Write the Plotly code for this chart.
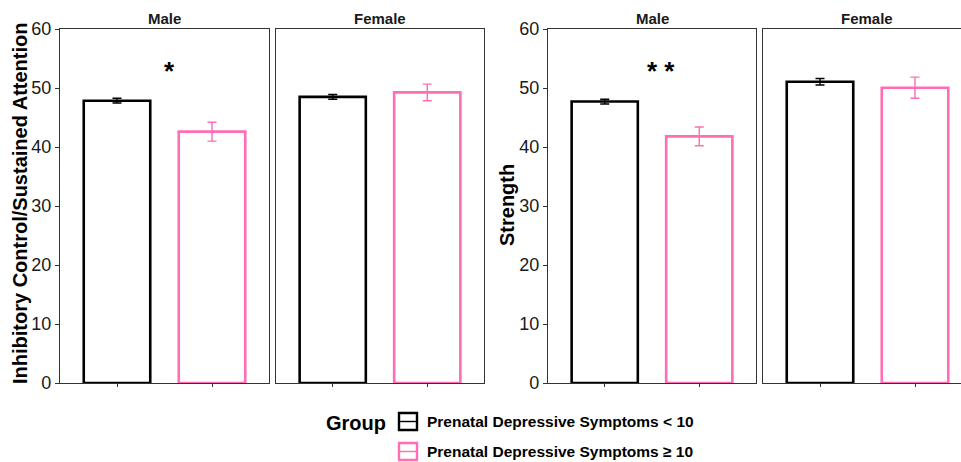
import plotly.graph_objects as go

W, H = 961, 462

# ---------------- data ----------------
panels = ["Male", "Female"]
groups = ["Prenatal Depressive Symptoms < 10", "Prenatal Depressive Symptoms ≥ 10"]
group_x = [1, 2]

ic_male_mean = [47.85, 42.6]
ic_male_se = [0.4, 1.6]
ic_female_mean = [48.5, 49.25]
ic_female_se = [0.4, 1.4]

str_male_mean = [47.7, 41.8]
str_male_se = [0.4, 1.6]
str_female_mean = [51.05, 50.05]
str_female_se = [0.55, 1.8]

y_ticks = [0, 10, 20, 30, 40, 50, 60]
y_titles = ["Inhibitory Control/Sustained Attention", "Strength"]
sig_labels = ["*", "* *"]
sig_x = [1.55, 1.6]
sig_y = [52.8, 52.8]

# ---------------- style ----------------
FONT = "Liberation Sans, Arial, Helvetica, sans-serif"
colors = ["#000000", "#FF6EB4"]
frame = "#333333"


def px_x(p):
    return p / W


def px_y(p):
    return 1 - p / H


# panel pixel boxes (left, right)
panel_boxes = [(60, 269), (276, 484), (548, 756), (763, 961)]
ydom = [px_y(383), px_y(29)]
unit_px = 209 / 2.2
x_ranges = [[0.4, 2.6], [0.4, 2.6], [0.4, 2.6], [0.4, 0.4 + (961 - 763) / unit_px]]

data_sets = [
    (ic_male_mean, ic_male_se),
    (ic_female_mean, ic_female_se),
    (str_male_mean, str_male_se),
    (str_female_mean, str_female_se),
]

fig = go.Figure()
for i, (means, ses) in enumerate(data_sets):
    xa = "x" if i == 0 else f"x{i+1}"
    ya = "y" if i == 0 else f"y{i+1}"
    for g in range(2):
        fig.add_trace(go.Bar(
            x=[group_x[g]], y=[means[g]],
            width=0.7,
            marker=dict(color="white", line=dict(color=colors[g], width=2.6)),
            error_y=dict(type="data", array=[ses[g]], color=colors[g],
                         thickness=1.4, width=4.5),
            xaxis=xa, yaxis=ya, showlegend=False, name=groups[g],
            hoverinfo="skip",
        ))

layout = dict(
    width=W, height=H,
    margin=dict(l=0, r=0, t=0, b=0),
    paper_bgcolor="white", plot_bgcolor="white",
    font=dict(family=FONT, color="#000000"),
    barmode="overlay",
    showlegend=False,
)

for i, (l, r) in enumerate(panel_boxes):
    k = "" if i == 0 else str(i + 1)
    last = i == 3
    show_y = i in (0, 2)
    layout["xaxis" + k] = dict(
        domain=[px_x(l), px_x(r)], range=x_ranges[i], anchor="y" + k,
        showgrid=False, zeroline=False, showline=True, mirror=True,
        linecolor=frame, linewidth=1.4,
        tickvals=group_x, ticks="outside", ticklen=3, tickcolor=frame,
        tickwidth=1, showticklabels=False, automargin=False, fixedrange=True,
    )
    layout["yaxis" + k] = dict(
        domain=ydom, range=[0, 60], anchor="x" + k,
        showgrid=False, zeroline=False, showline=True, mirror=not last,
        linecolor=frame, linewidth=1.4,
        tickvals=y_ticks if show_y else [],
        ticks="outside" if show_y else "", ticklen=4, tickcolor=frame, tickwidth=1,
        showticklabels=show_y,
        tickfont=dict(size=18, color="#1a1a1a", family=FONT),
        automargin=False, fixedrange=True,
    )

fig.update_layout(**layout)

annotations = []
# strip labels
for i, (l, r) in enumerate(panel_boxes):
    cx = (l + r) / 2 if i < 3 else (763 + 970) / 2
    annotations.append(dict(
        x=px_x(cx), y=px_y(18.5), xref="paper", yref="paper",
        text=panels[i % 2], showarrow=False, xanchor="center", yanchor="middle",
        font=dict(size=15, family=FONT, color="#1a1a1a", weight="bold"),
    ))
# y titles
for (xc, yc), t in zip([(20, 204), (507, 205)], y_titles):
    annotations.append(dict(
        x=px_x(xc), y=px_y(yc), xref="paper", yref="paper", text=t,
        textangle=-90, showarrow=False, xanchor="center", yanchor="middle",
        font=dict(size=20, family=FONT, color="#000000", weight="bold"),
    ))
# significance markers (in data coords of male panels)
for j, ax in enumerate(["", "3"]):
    annotations.append(dict(
        x=sig_x[j], y=sig_y[j], xref="x" + ax, yref="y" + ax,
        text=sig_labels[j], showarrow=False, xanchor="center", yanchor="middle",
        font=dict(size=26, family=FONT, color="#000000", weight="bold"),
    ))
# legend
annotations.append(dict(
    x=px_x(388), y=px_y(423), xref="paper", yref="paper", text="Group",
    showarrow=False, xanchor="right", yanchor="middle",
    font=dict(size=20, family=FONT, color="#000000", weight="bold"),
))
key_tops = [413, 443]
for g in range(2):
    yc = key_tops[g] + 8.5
    annotations.append(dict(
        x=px_x(425), y=px_y(yc), xref="paper", yref="paper", text=groups[g],
        showarrow=False, xanchor="left", yanchor="middle",
        font=dict(size=15.5, family=FONT, color="#000000", weight="bold"),
    ))

shapes = []
for g in range(2):
    t = key_tops[g]
    shapes.append(dict(type="rect", xref="paper", yref="paper",
                       x0=px_x(399), x1=px_x(417), y0=px_y(t + 17), y1=px_y(t),
                       line=dict(color=colors[g], width=2.4), fillcolor="white"))
    shapes.append(dict(type="line", xref="paper", yref="paper",
                       x0=px_x(399), x1=px_x(417), y0=px_y(t + 8.5), y1=px_y(t + 8.5),
                       line=dict(color=colors[g], width=1.4)))

fig.update_layout(annotations=annotations, shapes=shapes)
fig.write_html(
    "out.html",
    config={"displayModeBar": False},
    post_script="document.body.style.margin='0';document.body.style.padding='0';"
                "document.body.style.overflow='hidden';",
)
